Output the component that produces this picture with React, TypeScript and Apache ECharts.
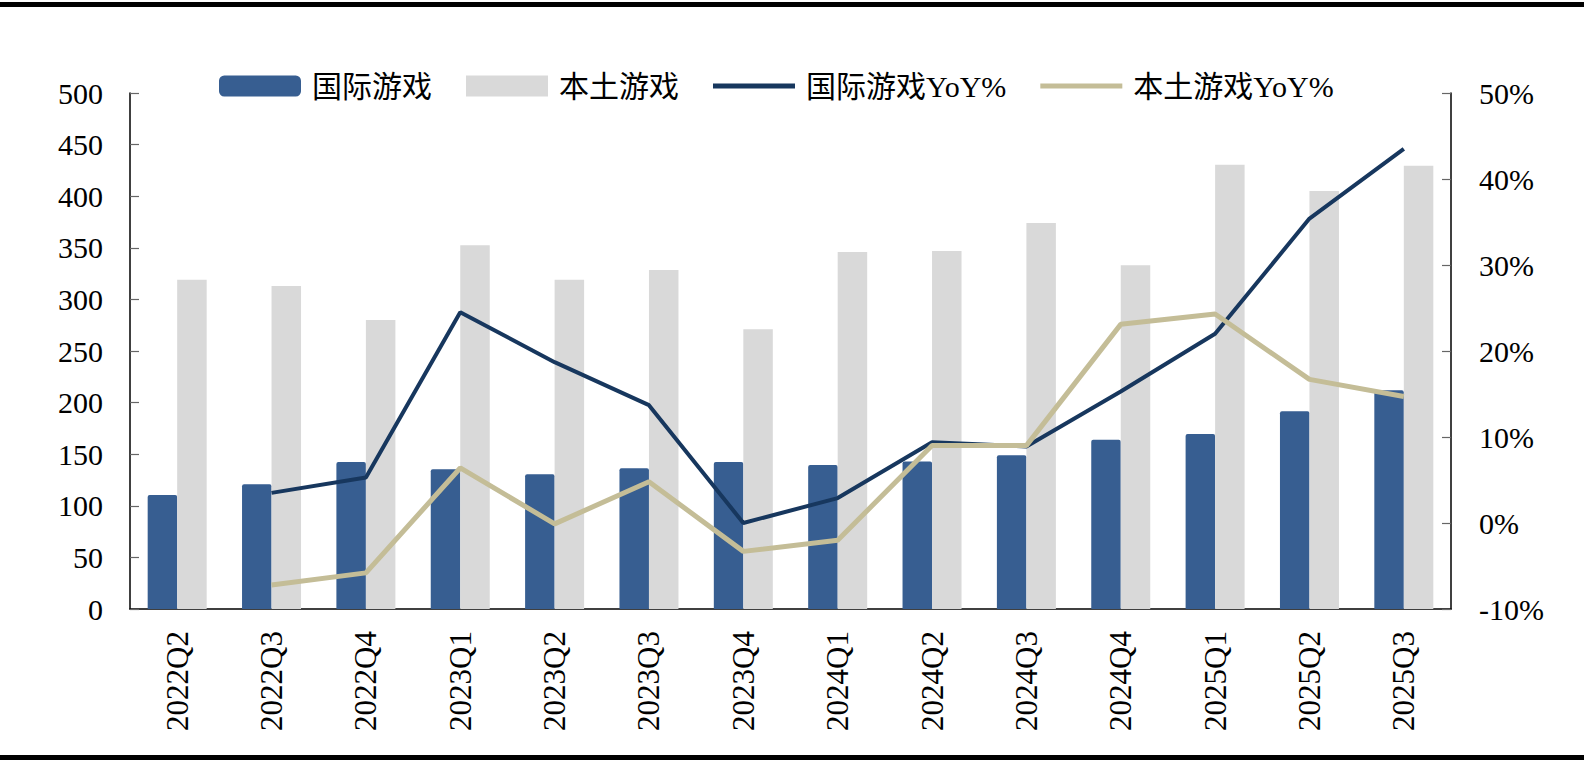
import React, { useEffect, useRef } from "react";
import * as echarts from "echarts";

const categories = [
  "2022Q2", "2022Q3", "2022Q4", "2023Q1", "2023Q2", "2023Q3", "2023Q4",
  "2024Q1", "2024Q2", "2024Q3", "2024Q4", "2025Q1", "2025Q2", "2025Q3",
];
const intlRevenue = [110.5, 121, 142.5, 135.5, 130.5, 136.5, 142.5, 139.5, 143, 149, 164, 169.5, 191.5, 212];
const localRevenue = [319, 313, 280, 352.5, 319, 328.5, 271, 346, 347, 374, 333, 430.5, 405, 429.5];
const intlYoY = [null, 3.5, 5.3, 24.5, 18.7, 13.7, 0.0, 2.9, 9.4, 8.9, 15.3, 22.0, 35.4, 43.5];
const localYoY = [null, -7.2, -5.8, 6.4, -0.1, 4.8, -3.3, -2.0, 9.0, 9.0, 23.1, 24.3, 16.7, 14.7];

const seriesNames = ["国际游戏", "本土游戏", "国际游戏YoY%", "本土游戏YoY%"];

const FONT = "Liberation Serif, Noto Sans CJK SC, serif";
const AXIS_FONT = "Liberation Serif";
const LINE_ICON = "path://M0,0 L100,0 L100,6 L0,6 Z";

export default function App() {
  const ref = useRef<HTMLDivElement>(null);
  useEffect(() => {
    if (!ref.current) return;
    const chart = echarts.init(ref.current, undefined, { renderer: "svg" });
    chart.setOption({
      animation: false,
      backgroundColor: "#fff",
      graphic: [
        { type: "rect", shape: { x: 0, y: 2, width: 1584, height: 5 }, style: { fill: "#000" } },
        { type: "rect", shape: { x: 0, y: 755, width: 1584, height: 5 }, style: { fill: "#000" } },
      ],
      legend: {
        left: 214,
        top: 66,
        itemWidth: 82,
        itemHeight: 21,
        itemGap: 34,
        textStyle: { fontFamily: FONT, fontSize: 30, color: "#000", padding: [0, 0, 0, 6] },
        data: [
          { name: seriesNames[0], icon: "roundRect" },
          { name: seriesNames[1], icon: "rect" },
          { name: seriesNames[2], icon: LINE_ICON, itemStyle: { color: "#17375E" } },
          { name: seriesNames[3], icon: LINE_ICON, itemStyle: { color: "#C4BD97" } },
        ],
      },
      grid: { left: 130, right: 133, top: 93, bottom: 151, containLabel: false },
      xAxis: {
        type: "category",
        data: categories,
        boundaryGap: true,
        axisLine: { lineStyle: { color: "#000", width: 1.5 } },
        axisTick: { inside: true, length: 9, lineStyle: { color: "#666", width: 1.2 } },
        axisLabel: { rotate: 90, margin: 22, fontFamily: AXIS_FONT, fontSize: 31, color: "#000", interval: 0 },
      },
      yAxis: [
        {
          type: "value",
          min: 0,
          max: 500,
          interval: 50,
          splitLine: { show: false },
          axisLine: { show: true, lineStyle: { color: "#000", width: 1.5 } },
          axisTick: { show: true, inside: true, length: 9, lineStyle: { color: "#666", width: 1.2 } },
          axisLabel: { margin: 27, fontFamily: AXIS_FONT, fontSize: 30, color: "#000" },
        },
        {
          type: "value",
          min: -10,
          max: 50,
          interval: 10,
          position: "right",
          splitLine: { show: false },
          axisLine: { show: true, lineStyle: { color: "#000", width: 1.5 } },
          axisTick: { show: true, inside: true, length: 9, lineStyle: { color: "#666", width: 1.2 } },
          axisLabel: { margin: 28, fontFamily: AXIS_FONT, fontSize: 30, color: "#000", formatter: "{value}%" },
        },
      ],
      series: [
        {
          name: seriesNames[0],
          type: "bar",
          data: intlRevenue,
          barWidth: 29.5,
          barGap: "0%",
          itemStyle: { color: "#375E91", borderRadius: [2, 2, 0, 0] },
        },
        {
          name: seriesNames[1],
          type: "bar",
          data: localRevenue,
          barWidth: 29.5,
          barGap: "0%",
          itemStyle: { color: "#D9D9D9" },
        },
        {
          name: seriesNames[2],
          type: "line",
          yAxisIndex: 1,
          data: intlYoY,
          symbol: "none",
          showSymbol: false,
          lineStyle: { color: "#17375E", width: 4 },
          itemStyle: { color: "#17375E" },
        },
        {
          name: seriesNames[3],
          type: "line",
          yAxisIndex: 1,
          data: localYoY,
          symbol: "none",
          showSymbol: false,
          lineStyle: { color: "#C4BD97", width: 5 },
          itemStyle: { color: "#C4BD97" },
        },
      ],
    });
    return () => chart.dispose();
  }, []);
  return (
    <div
      ref={ref}
      style={{ position: "fixed", left: 0, top: 0, width: 1584, height: 760, background: "#fff" }}
    />
  );
}
